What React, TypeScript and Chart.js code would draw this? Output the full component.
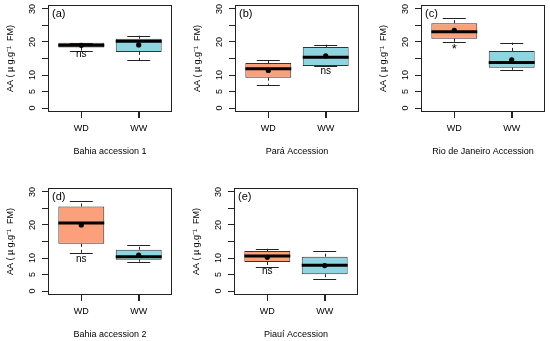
import React, { useEffect, useRef } from 'react';
import { Chart, registerables } from 'chart.js';

Chart.register(...registerables);

const panelLabels = ['(a)', '(b)', '(c)', '(d)', '(e)'];
const accessions = ['Bahia accession 1', 'Pará Accession', 'Rio de Janeiro Accession', 'Bahia accession 2', 'Piauí Accession'];
const groups = ['WD', 'WW'];
const yTicks = [0, 5, 10, 15, 20, 25, 30];
const yTickLabels = ['0', '5', '10', '', '20', '', '30'];
const yTitle = 'AA ( µ g.g⁻¹  FM)';

// WD (water deficit) statistics per panel
const wdMin = [17.4, 7.0, 20.0, 11.4, 7.4];
const wdQ1 = [18.3, 9.2, 21.0, 14.3, 8.8];
const wdMed = [19.0, 11.9, 23.1, 20.6, 10.6];
const wdQ3 = [19.8, 13.6, 25.7, 25.6, 12.1];
const wdMax = [19.8, 14.6, 27.4, 27.2, 12.8];
const wdMean = [19.0, 11.4, 23.5, 20.0, 10.2];

// WW (well watered) statistics per panel
const wwMin = [14.5, 12.7, 11.6, 8.9, 3.5];
const wwQ1 = [17.0, 12.7, 12.2, 9.5, 5.1];
const wwMed = [20.2, 15.4, 13.8, 10.4, 7.8];
const wwQ3 = [21.0, 18.5, 17.3, 12.5, 10.4];
const wwMax = [21.9, 19.2, 19.8, 14.0, 12.0];
const wwMean = [19.1, 15.8, 14.6, 10.9, 7.7];

// significance annotations
const annText = ['ns', 'ns', '*', 'ns', 'ns'];
const annGroup = [0, 1, 0, 0, 0];
const annValue = [16.3, 11.2, 17.6, 9.6, 6.0];

const boxColors = ['#FCA07C', '#8FD4E1'];
const FONT = 'Liberation Sans, Arial, Helvetica, sans-serif';

const panelLeft = [0, 187, 373, 0, 186];
const panelTop = [0, 0, 0, 183, 183];
const CW = 183;
const CH = 170;

function makePlugin(p: number) {
  return {
    id: 'boxExtras' + p,
    afterDatasetDraw(chart: any, args: any) {
      if (args.index !== 1) return;
      const { ctx } = chart;
      const x = chart.scales.x;
      const y = chart.scales.y;
      const meta = chart.getDatasetMeta(1);
      const stats = [
        [wdMin[p], wdQ1[p], wdMed[p], wdQ3[p], wdMax[p]],
        [wwMin[p], wwQ1[p], wwMed[p], wwQ3[p], wwMax[p]],
      ];
      stats.forEach((s, i) => {
        const bar: any = meta.data[i];
        const cx = x.getPixelForValue(i + 1);
        const w = bar.width;
        ctx.save();
        ctx.strokeStyle = '#222';
        ctx.lineWidth = 1;
        // whiskers (dashed)
        ctx.setLineDash([3, 3]);
        ctx.beginPath();
        ctx.moveTo(Math.round(cx) + 0.5, y.getPixelForValue(s[3]));
        ctx.lineTo(Math.round(cx) + 0.5, y.getPixelForValue(s[4]));
        ctx.moveTo(Math.round(cx) + 0.5, y.getPixelForValue(s[1]));
        ctx.lineTo(Math.round(cx) + 0.5, y.getPixelForValue(s[0]));
        ctx.stroke();
        // staples
        ctx.setLineDash([]);
        ctx.beginPath();
        const sy1 = Math.round(y.getPixelForValue(s[4])) + 0.5;
        const sy0 = Math.round(y.getPixelForValue(s[0])) + 0.5;
        ctx.moveTo(cx - w / 4, sy1);
        ctx.lineTo(cx + w / 4, sy1);
        ctx.moveTo(cx - w / 4, sy0);
        ctx.lineTo(cx + w / 4, sy0);
        ctx.stroke();
        // median
        ctx.strokeStyle = '#000';
        ctx.lineWidth = 3;
        ctx.beginPath();
        const my = y.getPixelForValue(s[2]);
        ctx.moveTo(cx - w / 2, my);
        ctx.lineTo(cx + w / 2, my);
        ctx.stroke();
        ctx.restore();
      });
    },
    afterDraw(chart: any) {
      const { ctx, chartArea } = chart;
      const x = chart.scales.x;
      const y = chart.scales.y;
      ctx.save();
      // frame
      ctx.strokeStyle = '#222';
      ctx.lineWidth = 1;
      ctx.strokeRect(chartArea.left + 0.5, chartArea.top + 0.5, chartArea.right - chartArea.left - 1, chartArea.bottom - chartArea.top - 1);
      // x tick marks
      ctx.beginPath();
      groups.forEach((_, i) => {
        const tx = Math.round(x.getPixelForValue(i + 1)) + 0.5;
        ctx.moveTo(tx, chartArea.bottom);
        ctx.lineTo(tx, chartArea.bottom + 6);
      });
      ctx.stroke();
      // rotated y tick labels
      ctx.fillStyle = '#000';
      ctx.font = '9px ' + FONT;
      ctx.textAlign = 'center';
      ctx.textBaseline = 'middle';
      yTicks.forEach((v, i) => {
        if (!yTickLabels[i]) return;
        ctx.save();
        ctx.translate(chartArea.left - 15, y.getPixelForValue(v));
        ctx.rotate(-Math.PI / 2);
        ctx.fillText(yTickLabels[i], 0, 0);
        ctx.restore();
      });
      // panel label
      ctx.font = '11px ' + FONT;
      ctx.textAlign = 'left';
      ctx.textBaseline = 'top';
      ctx.fillText(panelLabels[p], chartArea.left + 4, chartArea.top + 3);
      // annotation
      const isStar = annText[p] === '*';
      ctx.font = (isStar ? '13px ' : '10px ') + FONT;
      ctx.textAlign = 'center';
      ctx.textBaseline = 'middle';
      ctx.fillText(annText[p], x.getPixelForValue(annGroup[p] + 1), y.getPixelForValue(annValue[p]));
      ctx.restore();
    },
  };
}

function Panel({ p }: { p: number }) {
  const ref = useRef<HTMLCanvasElement>(null);
  useEffect(() => {
    if (!ref.current) return;
    const chart = new Chart(ref.current, {
      type: 'bar',
      data: {
        datasets: [
          {
            type: 'scatter',
            data: [
              { x: 1, y: wdMean[p] },
              { x: 2, y: wwMean[p] },
            ],
            pointRadius: 2.6,
            pointBackgroundColor: '#000',
            pointBorderWidth: 0,
          } as any,
          {
            type: 'bar',
            data: [
              { x: 1, y: [wdQ1[p], wdQ3[p]] },
              { x: 2, y: [wwQ1[p], wwQ3[p]] },
            ],
            backgroundColor: boxColors,
            borderColor: '#333',
            borderWidth: 1,
            borderSkipped: false,
            barPercentage: 0.8,
            categoryPercentage: 1,
          } as any,
        ],
      },
      options: {
        animation: false,
        responsive: false,
        devicePixelRatio: 1,
        events: [],
        layout: { padding: { top: 5, right: 11, left: 0, bottom: 0 } },
        plugins: { legend: { display: false }, tooltip: { enabled: false } },
        scales: {
          x: {
            type: 'linear',
            min: 0.42,
            max: 2.58,
            offset: false,
            afterBuildTicks: (s: any) => {
              s.ticks = groups.map((_, i) => ({ value: i + 1 }));
            },
            afterFit: (s: any) => {
              s.height = 58;
            },
            ticks: {
              autoSkip: false,
              padding: 5,
              color: '#000',
              font: { size: 9, family: FONT },
              callback: (v: any) => groups[Number(v) - 1] ?? '',
            },
            grid: { offset: false, drawOnChartArea: false, drawTicks: true, tickLength: 6, color: '#222' },
            border: { display: false },
            title: {
              display: true,
              text: accessions[p],
              color: '#000',
              font: { size: 9, family: FONT },
              padding: { top: 0, bottom: 13 },
            },
          },
          y: {
            type: 'linear',
            min: -1.2,
            max: 31.2,
            afterBuildTicks: (s: any) => {
              s.ticks = yTicks.map((v) => ({ value: v }));
            },
            afterFit: (s: any) => {
              s.width = 48;
            },
            ticks: { display: false },
            grid: { drawOnChartArea: false, drawTicks: true, tickLength: 6, color: '#222' },
            border: { display: false },
            title: {
              display: true,
              text: yTitle,
              color: '#000',
              font: { size: 9, family: FONT },
              padding: { top: 5, bottom: 0 },
            },
          },
        },
      } as any,
      plugins: [makePlugin(p)],
    });
    return () => chart.destroy();
  }, [p]);
  return (
    <canvas
      ref={ref}
      width={CW}
      height={CH}
      style={{ position: 'absolute', left: panelLeft[p], top: panelTop[p], width: CW, height: CH, display: 'block' }}
    />
  );
}

export default function App() {
  return (
    <div
      style={{
        position: 'absolute',
        left: 0,
        top: 0,
        width: 550,
        height: 341,
        overflow: 'hidden',
        background: '#fff',
      }}
    >
      {panelLabels.map((_, p) => (
        <Panel key={p} p={p} />
      ))}
    </div>
  );
}
